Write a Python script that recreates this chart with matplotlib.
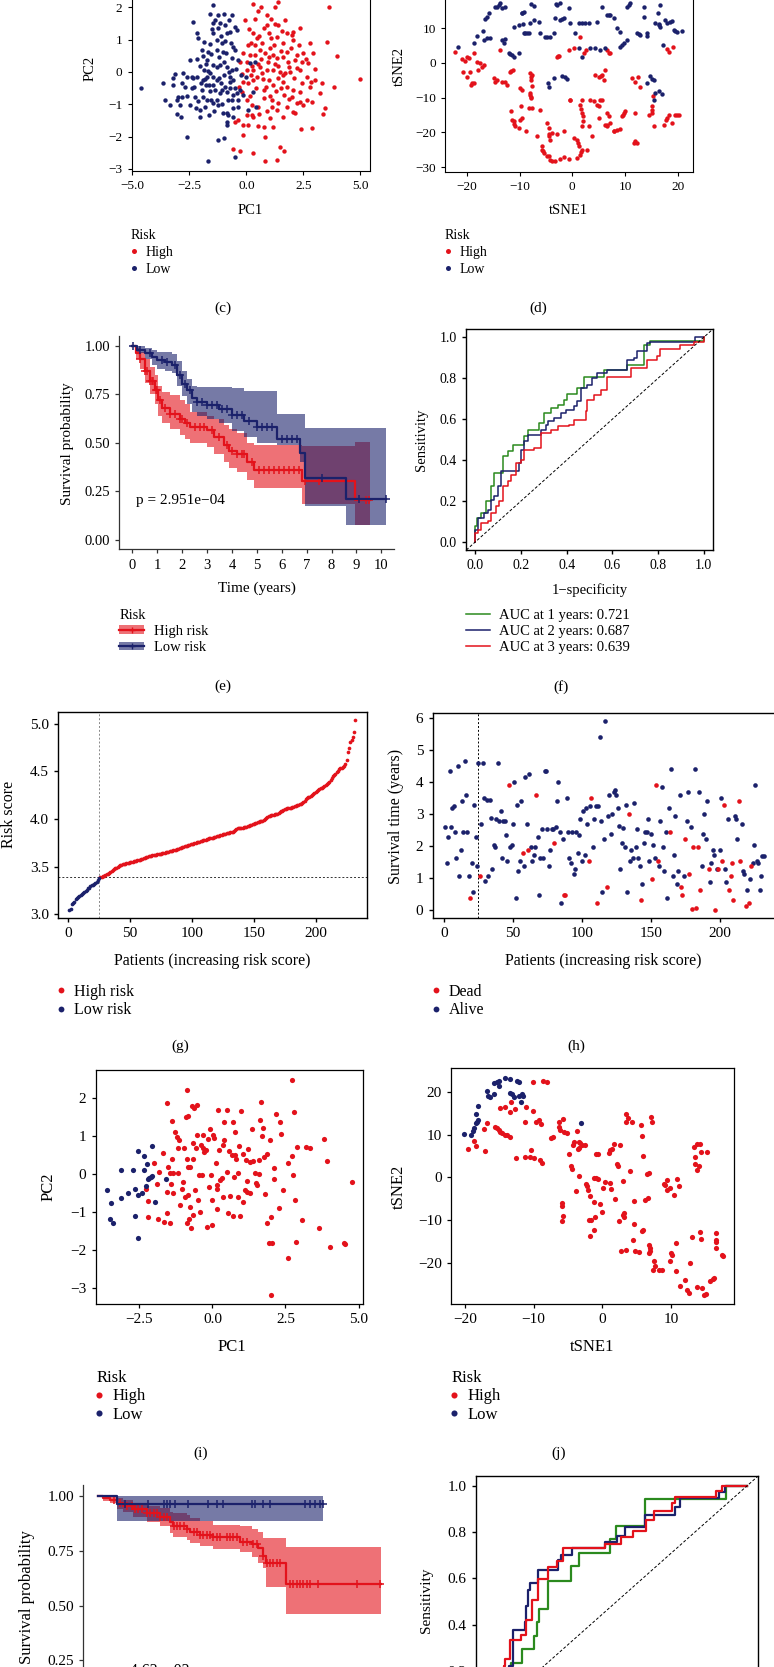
import numpy as np
import matplotlib
matplotlib.use("Agg")
import matplotlib.pyplot as plt
from matplotlib.lines import Line2D
from matplotlib.patches import Patch
from matplotlib.ticker import FuncFormatter

plt.rcParams['font.family'] = ['Liberation Serif', 'DejaVu Serif']

RED = '#e3121b'
BLUE = '#1b216b'
GREEN = '#2b8a1e'

# ---------------- data ----------------
# (c) PCA, training set: (PC1, PC2)
pca_train_low = np.array([
    (-4.62, -0.51), (-3.64, -0.33), (-3.13, -0.06), (-2.79, -0.02), (-3.20, -0.40), (-3.01, -0.76),
    (-2.81, -0.33), (-2.69, -0.45), (-2.84, -0.76), (-3.06, -1.30), (-2.87, -1.40), (-2.62, -2.00),
    (-2.47, -1.02), (-2.40, -0.51), (-2.35, -0.20), (-2.25, -0.76), (-2.18, 1.20), (-2.35, 1.56),
    (-2.11, 1.04), (-2.05, -1.38), (-1.89, -0.76), (-1.81, -0.23), (-2.18, -0.16), (-2.03, 0.19),
    (-1.86, 0.06), (-1.74, 0.37), (-1.67, 0.63), (-1.62, -0.40), (-1.59, 0.87), (-1.52, 1.32),
    (-1.48, 1.51), (-1.59, 1.81), (-1.45, 2.07), (-1.37, 1.61), (-1.30, 0.99), (-1.23, 1.35),
    (-1.15, 1.51), (-1.11, 1.11), (-1.05, 0.89), (-1.01, 0.63), (-0.98, 0.32), (-0.91, 0.58),
    (-0.86, 0.16), (-0.75, 0.01), (-0.72, -0.14), (-0.64, 0.06), (-0.57, -0.25), (-0.50, -0.51),
    (-0.42, -0.66), (-0.39, -1.07), (-0.64, -0.87), (-0.86, -1.28), (-1.01, -1.28), (-1.15, -0.66),
    (-1.30, -0.87), (-1.37, -0.56), (-1.45, -0.14), (-1.55, -0.87), (-1.62, -1.33), (-1.67, -2.77),
    (-1.23, -2.10), (-0.98, -2.03), (-0.79, -1.33), (-0.79, -0.87), (-0.57, -1.38), (-0.50, -2.62),
    (-0.35, -0.87), (-0.28, -0.56), (-0.39, 0.37), (-0.57, 0.78), (-0.67, 0.89), (-0.77, 1.61),
    (-0.98, 1.81), (-0.61, 1.76), (-0.50, 1.40), (-0.42, 1.30), (-0.72, 1.25), (-0.94, 1.45),
    (-1.81, -1.07), (-1.77, -0.40), (-1.45, -0.40), (-1.30, 0.16), (-1.18, -0.20), (-1.11, -0.35),
    (-0.94, -0.45), (-0.86, -0.61), (-0.72, -0.51), (-0.57, -0.71), (-1.15, 0.22), (-1.45, 0.22),
    (-1.67, 0.04), (-1.89, -0.25), (-1.96, -0.56), (-2.11, -0.89), (-2.03, -1.18), (-1.74, -0.87),
    (-1.45, -0.97), (-1.23, -1.02), (-1.08, -0.99), (-2.91, -1.02), (-3.06, -0.87), (-3.35, -1.02),
    (-3.57, -0.87), (-3.20, -0.20), (-2.62, -0.16), (-2.40, -0.16), (-2.47, 0.37), (-2.18, 0.39),
    (-1.74, -0.14), (-1.59, -0.02), (-1.96, 0.68), (-1.86, 0.94), (-1.45, 1.20), (-1.30, 0.68),
    (-0.64, 0.42), (-0.50, 0.68), (0.16, 0.27), (0.38, 0.32), (0.31, -0.61), (0.42, -1.07),
    (-0.13, -0.71), (-0.01, -0.16), (0.09, -1.18), (-0.86, -1.64), (-0.83, -1.54),
    (-1.20, 0.45), (-1.55, 0.55), (-1.00, -0.10), (-0.70, -0.30), (-1.30, -0.25), (-1.60, -0.60),
    (-2.30, -0.45), (-2.00, -0.35), (-1.75, 0.25), (-1.05, -0.55), (-0.95, 0.95), (-1.25, 1.75),
    (-0.85, 1.20), (-2.60, -0.75), (-2.20, -1.10), (-0.45, 0.10), (-0.25, -0.10), (-1.40, -1.20),
    (-0.60, -1.10), (-1.90, 0.50)])
pca_train_high = np.array([
    (0.31, 2.10), (0.63, 2.02), (1.27, 2.00), (1.40, 2.18), (3.64, 2.00), (-0.06, 1.61), (0.38, 1.63),
    (0.89, 1.76), (1.07, 1.63), (1.37, 1.45), (1.58, 1.28), (0.13, 1.32), (0.31, 1.22), (0.75, 1.35),
    (0.89, 1.45), (1.33, 1.09), (1.77, 1.20), (1.99, 1.14), (2.35, 1.35), (2.03, 1.25), (2.06, 0.99),
    (0.38, 0.84), (0.67, 0.89), (1.04, 0.73), (1.21, 0.84), (1.59, 0.89), (1.80, 0.63), (2.21, 0.53),
    (2.79, 0.89), (3.52, 0.94), (3.96, 0.49), (2.94, 0.58), (2.72, 0.27), (2.43, 0.32), (2.13, 0.37),
    (1.84, 0.32), (1.62, 0.47), (1.33, 0.42), (1.15, 0.53), (0.82, 0.58), (0.60, 0.68), (0.38, 0.53),
    (0.16, 0.53), (0.01, 0.32), (-0.28, 0.32), (0.01, 0.06), (0.31, 0.06), (0.60, 0.16), (0.89, 0.06),
    (1.15, 0.06), (1.48, 0.01), (1.70, -0.04), (1.92, 0.01), (2.21, 0.11), (2.35, 0.06), (2.65, -0.14),
    (3.01, -0.25), (3.30, -0.35), (3.82, -0.47), (4.96, -0.23), (-0.16, -0.30), (0.09, -0.35),
    (0.28, -0.25), (0.45, -0.16), (0.72, -0.21), (0.98, -0.25), (1.18, -0.40), (1.40, -0.20),
    (1.59, -0.30), (1.77, -0.45), (2.06, -0.56), (2.35, -0.61), (2.79, -0.45), (3.23, -0.66),
    (2.65, -0.87), (2.35, -0.92), (1.99, -0.76), (1.65, -0.71), (1.40, -0.97), (1.11, -0.87),
    (0.75, -0.81), (0.53, -1.07), (0.23, -1.02), (0.01, -0.87), (-0.20, -0.61), (-0.31, -0.47),
    (1.11, -1.07), (1.33, -1.18), (2.06, -1.23), (2.50, -1.02), (2.87, -0.92), (3.45, -1.12),
    (3.38, -1.31), (2.13, -1.28), (1.77, -1.07), (1.04, -1.43), (0.75, -1.69), (1.18, -1.69),
    (0.82, -2.00), (-0.13, -1.95), (-0.28, -2.46), (0.31, -2.52), (0.82, -2.77), (1.33, -2.72),
    (1.48, -2.31), (1.65, -2.44), (2.38, -1.77), (2.87, -1.74), (-0.50, -1.54), (0.09, -1.64),
    (-0.35, -1.48), (-0.13, -1.64), (0.53, -1.67), (0.23, -1.33), (0.31, -1.38), (0.01, -1.33),
    (-0.57, -2.39), (0.50, 0.25), (0.70, -0.02), (0.95, 0.30), (1.25, 0.25), (0.45, 1.05),
    (1.00, 1.20), (1.60, -0.10), (0.20, -0.10), (0.85, -0.45), (1.30, -0.60), (2.50, 0.60),
    (0.20, 0.90), (0.55, 1.10), (1.10, 1.05), (1.50, 0.65), (1.95, 0.75), (2.30, 0.85), (0.25, 0.20),
    (0.65, 0.40), (1.00, 0.45), (1.40, 0.20), (1.85, 0.15), (2.10, -0.20), (2.45, -0.35), (0.40, -0.50),
    (0.75, -0.55), (1.05, -0.75), (1.50, -0.50), (1.85, -0.85), (2.20, -0.95), (0.15, -0.75),
    (0.55, -1.30), (0.90, -1.20), (1.60, -1.40), (-0.15, 0.60), (-0.20, -0.05), (3.00, 0.10),
    (2.60, 0.40), (0.05, 0.85), (1.25, 1.50), (0.50, 1.90), (1.70, 1.60), (2.85, -0.30)])

# (d) t-SNE, training set: (tSNE1, tSNE2)
tsne_train_low = np.array([
    (-21.77, 4.70), (-18.61, 5.85), (-18.10, 7.77), (-16.84, 6.62), (-16.20, 7.10), (-15.57, 7.10),
    (-16.52, 12.67), (-15.89, 14.30), (-14.30, 16.22), (-13.67, 17.18), (-13.35, 15.74), (-12.72, 16.22),
    (-17.03, 9.31), (-13.35, 6.62), (-13.04, 5.66), (-12.72, 6.81), (-12.09, 2.78), (-11.46, 2.30),
    (-11.14, 1.82), (-10.19, 2.78), (-11.14, 10.46), (-10.19, 10.94), (-9.43, 11.23), (-9.24, 8.54),
    (-8.92, 8.73), (-8.29, 8.54), (-7.97, 11.42), (-7.34, 12.38), (-6.39, 11.90), (-9.56, 14.30),
    (-9.11, 14.78), (-7.85, 16.99), (-7.34, 16.41), (-6.08, 8.54), (-5.13, 7.58), (-4.18, 7.39),
    (-3.54, 8.54), (-3.23, 12.86), (-2.28, 12.38), (-1.65, 12.86), (-2.91, 16.70), (-2.41, 17.37),
    (-0.70, 15.74), (-0.38, 11.42), (1.20, 11.42), (2.47, 11.42), (3.10, 11.42), (4.68, 11.90),
    (5.63, 16.03), (6.58, 13.82), (7.22, 13.82), (7.85, 12.86), (8.48, 9.98), (9.11, 9.02),
    (10.38, 16.22), (11.01, 17.18), (12.28, 8.54), (12.91, 8.06), (13.54, 16.22), (13.67, 13.34),
    (14.18, 8.54), (14.18, 7.77), (15.76, 11.42), (16.39, 10.94), (16.58, 10.46), (16.20, 14.30),
    (16.71, 16.70), (17.66, 12.38), (17.97, 11.61), (18.48, 11.90), (18.92, 12.19), (19.24, 9.50),
    (19.87, 9.02), (20.82, 9.31), (17.15, 5.18), (9.11, 4.70), (9.75, 5.66), (10.38, 6.62),
    (0.57, 8.54), (1.20, 4.22), (1.84, 1.82), (3.42, 4.22), (4.37, 4.22), (5.32, 3.74), (6.27, 4.22),
    (-4.68, -5.85), (-3.54, -4.41), (-1.96, -3.74), (-1.33, -4.13), (-1.01, -4.70), (-4.49, -7.01),
    (14.81, -3.74), (15.13, -4.70), (15.44, -4.89), (14.18, -5.85), (15.76, -8.73), (16.39, -8.25),
    (17.03, -8.93), (15.44, -10.65), (-16.10, 13.30), (-14.00, 16.70), (-8.60, 8.60), (-4.80, 7.50),
    (-2.00, 12.60), (1.90, 11.40), (6.90, 13.80), (10.70, 16.70), (12.60, 8.30), (16.40, 11.20),
    (19.50, 9.30), (-11.80, 2.50), (-9.50, 14.50), (-3.00, 16.90), (9.40, 5.20), (-14.70, 16.00)])
tsne_train_high = np.array([
    (-22.22, 3.26), (-20.95, 1.06), (-20.32, 0.67), (-20.00, 1.63), (-19.56, 1.34), (-18.73, 2.78),
    (-18.10, 0.38), (-17.47, -0.10), (-16.84, -0.58), (-20.76, -2.50), (-20.00, -3.93), (-19.49, -2.50),
    (-19.24, -6.33), (-18.73, -5.66), (-17.97, -2.02), (-17.15, -1.06), (-14.94, -4.41), (-14.62, -5.37),
    (-13.35, -5.37), (-12.72, -5.37), (-12.41, -6.33), (-11.90, -2.50), (-11.27, -2.02), (-13.67, 3.74),
    (-9.87, -7.29), (-9.56, -7.77), (-7.97, -2.98), (-7.66, -3.45), (-7.85, -4.89), (-7.66, -6.81),
    (-8.10, -8.73), (-7.97, -9.21), (-7.78, -10.17), (-7.66, -13.05), (-8.29, -13.05), (-6.08, -13.53),
    (-11.65, -14.01), (-11.46, -16.41), (-11.14, -16.89), (-10.82, -18.33), (-10.19, -18.81),
    (-9.87, -16.41), (-9.56, -15.93), (-9.75, -12.57), (-8.73, -19.77), (-6.71, -21.21), (-5.76, -24.09),
    (-5.76, -25.05), (-5.44, -26.01), (-4.49, -26.97), (-4.18, -27.93), (-3.23, -28.41), (-2.91, -20.44),
    (-3.86, -20.25), (-4.49, -18.81), (-4.49, -21.21), (-4.30, -22.36), (-4.81, -17.37), (-1.65, -19.77),
    (-0.70, -27.74), (-0.51, -10.65), (-0.38, -10.65), (1.84, -10.65), (1.52, -12.09), (1.84, -14.49),
    (2.03, -15.45), (1.84, -18.33), (1.20, -24.09), (1.84, -25.05), (2.78, -25.05), (3.10, -18.33),
    (3.73, -21.21), (3.42, -10.65), (4.05, -11.13), (5.00, -12.57), (5.32, -10.65), (5.63, -10.65),
    (6.58, -14.49), (6.90, -15.45), (6.27, -17.85), (6.58, -18.33), (7.22, -17.37), (7.85, -19.77),
    (8.48, -19.29), (9.11, -19.10), (9.43, -15.45), (9.75, -14.49), (10.06, -14.01), (5.00, -15.93),
    (4.37, -3.45), (5.00, -3.93), (5.63, -3.45), (5.95, -4.89), (6.27, -2.02), (6.90, 2.78), (7.22, 2.78),
    (6.58, 3.74), (2.59, 3.74), (2.15, 2.78), (-0.70, 3.74), (0.25, 4.22), (1.52, 7.58), (-2.91, 1.82),
    (-2.59, 2.02), (0.25, -21.69), (0.89, -22.17), (1.01, -23.13), (11.96, -14.49), (11.65, -23.13),
    (11.96, -22.65), (11.33, -4.41), (11.96, -5.37), (12.41, -3.93), (12.91, -7.01), (15.32, -9.69),
    (15.13, -12.57), (15.13, -14.49), (14.49, -14.97), (15.44, -18.33), (17.34, -17.85), (17.97, -15.93),
    (18.29, -14.97), (18.92, -17.37), (19.87, -14.97), (20.19, -14.97), (17.97, 3.93), (19.11, 4.70),
    (18.29, 3.26), (0.89, -27.45), (1.39, -26.49), (-4.81, -26.97), (-2.28, -27.74), (-1.65, -27.16),
    (-19.00, -5.90), (-14.30, -5.00), (-11.60, -2.30), (-7.80, -4.00), (-7.90, -9.70), (-11.00, -17.50),
    (-5.60, -25.50), (-3.80, -28.20), (-4.40, -20.50), (1.70, -13.20), (1.95, -16.80), (4.70, -12.00),
    (6.50, -17.90), (8.00, -19.50), (9.60, -15.00), (15.20, -13.50), (17.70, -16.60), (19.50, -15.00),
    (12.20, -23.00), (5.50, -3.70), (-2.70, 1.90), (1.60, -25.60)])

# (e) Kaplan-Meier, training set
km_tr_high_t = [0, 0.15, 0.3, 0.5, 0.7, 0.9, 1.05, 1.2, 1.5, 1.9, 2.1, 2.3, 3.0, 3.3, 3.7, 3.9, 4.2, 4.6, 4.9, 6.8, 8.95, 9.55]
km_tr_high_s = [1.0, 0.96, 0.93, 0.87, 0.82, 0.77, 0.72, 0.68, 0.65, 0.62, 0.60, 0.58, 0.565, 0.53, 0.49, 0.455, 0.44, 0.40, 0.36, 0.30, 0.205, 0.205]
km_tr_high_lo = [1.0, 0.93, 0.88, 0.81, 0.75, 0.70, 0.64, 0.60, 0.57, 0.54, 0.52, 0.50, 0.48, 0.44, 0.40, 0.37, 0.35, 0.31, 0.265, 0.185, 0.075, 0.075]
km_tr_high_up = [1.0, 0.99, 0.97, 0.93, 0.89, 0.85, 0.79, 0.76, 0.745, 0.72, 0.70, 0.66, 0.64, 0.62, 0.59, 0.57, 0.55, 0.50, 0.49, 0.485, 0.505, 0.505]
km_tr_high_cens = [0.3, 0.5, 0.6, 0.7, 0.8, 0.85, 0.95, 1.0, 1.1, 1.3, 1.5, 1.7, 1.9, 2.0, 2.2, 2.5, 2.7, 2.9, 3.2,
                   3.5, 3.8, 4.0, 4.2, 4.4, 4.5, 4.8, 5.1, 5.3, 5.5, 5.7, 5.9, 6.1, 6.3, 6.5, 6.7, 6.95, 7.5, 9.4, 9.5]
km_tr_low_t = [0, 0.2, 0.5, 0.8, 1.0, 1.3, 1.6, 1.8, 2.0, 2.2, 2.4, 2.6, 3.0, 3.5, 4.0, 4.5, 5.0, 5.8, 6.73, 6.93, 8.6, 10.2]
km_tr_low_s = [1.0, 0.98, 0.96, 0.94, 0.925, 0.915, 0.90, 0.85, 0.80, 0.77, 0.73, 0.71, 0.695, 0.675, 0.645, 0.61, 0.58, 0.52, 0.445, 0.32, 0.21, 0.21]
km_tr_low_lo = [1.0, 0.96, 0.93, 0.90, 0.88, 0.87, 0.86, 0.79, 0.74, 0.70, 0.66, 0.64, 0.62, 0.60, 0.56, 0.53, 0.50, 0.49, 0.40, 0.175, 0.075, 0.075]
km_tr_low_up = [1.0, 1.0, 0.99, 0.98, 0.97, 0.965, 0.955, 0.92, 0.87, 0.83, 0.79, 0.785, 0.785, 0.785, 0.78, 0.765, 0.765, 0.65, 0.65, 0.575, 0.575, 0.575]
km_tr_low_cens = [0.05, 0.3, 0.7, 1.2, 1.4, 1.7, 1.9, 2.1, 2.3, 2.6, 2.8, 3.0, 3.2, 3.4, 3.6, 3.8, 4.0, 4.2, 4.4, 4.7,
                  5.0, 5.2, 5.4, 5.6, 6.0, 6.2, 6.4, 6.6, 7.6, 9.1, 10.2]
p_train = "p = 2.951e\u221204"

# (f) time-dependent ROC, training set: (1 - specificity, sensitivity)
roc_tr_1y = np.array([
    (0, 0), (0, 0.077), (0.007, 0.117), (0.025, 0.142), (0.047, 0.199), (0.068, 0.272), (0.083, 0.337),
    (0.105, 0.337), (0.119, 0.419), (0.141, 0.443), (0.163, 0.476), (0.199, 0.476), (0.214, 0.516),
    (0.229, 0.549), (0.258, 0.549), (0.279, 0.581), (0.301, 0.581), (0.301, 0.630), (0.330, 0.655),
    (0.360, 0.671), (0.389, 0.695), (0.403, 0.723), (0.440, 0.723), (0.447, 0.752), (0.476, 0.809),
    (0.534, 0.809), (0.563, 0.842), (0.636, 0.842), (0.665, 0.866), (0.702, 0.866), (0.738, 0.964),
    (0.767, 0.985), (0.949, 0.985), (1.0, 1.0)])
roc_tr_2y = np.array([
    (0, 0), (0, 0.060), (0.010, 0.117), (0.039, 0.142), (0.054, 0.158), (0.068, 0.207), (0.083, 0.223),
    (0.098, 0.272), (0.112, 0.345), (0.170, 0.345), (0.192, 0.386), (0.199, 0.451), (0.214, 0.492),
    (0.229, 0.524), (0.272, 0.524), (0.287, 0.549), (0.309, 0.573), (0.316, 0.590), (0.345, 0.606),
    (0.374, 0.630), (0.396, 0.647), (0.432, 0.663), (0.447, 0.687), (0.461, 0.752), (0.491, 0.769),
    (0.512, 0.801), (0.534, 0.826), (0.578, 0.842), (0.658, 0.842), (0.665, 0.891), (0.694, 0.899),
    (0.709, 0.932), (0.753, 0.972), (0.767, 0.977), (0.949, 0.977), (0.964, 1.0), (1.0, 1.0)])
roc_tr_3y = np.array([
    (0, 0), (0, 0.044), (0.010, 0.060), (0.025, 0.093), (0.054, 0.101), (0.068, 0.142), (0.090, 0.174),
    (0.105, 0.199), (0.119, 0.272), (0.141, 0.296), (0.156, 0.329), (0.178, 0.386), (0.199, 0.402),
    (0.214, 0.451), (0.258, 0.459), (0.287, 0.533), (0.330, 0.549), (0.360, 0.565), (0.410, 0.573),
    (0.432, 0.598), (0.483, 0.638), (0.491, 0.695), (0.520, 0.720), (0.549, 0.744), (0.578, 0.806),
    (0.651, 0.806), (0.680, 0.850), (0.753, 0.891), (0.796, 0.907), (0.811, 0.943), (0.898, 0.964),
    (0.956, 0.980), (1.0, 1.0)])
auc_train = [0.721, 0.687, 0.639]

# (g) risk score, validation set (sorted), first n_low patients are low risk
n_low = 25
risk_score = [
    3.04, 3.05, 3.11, 3.12, 3.13, 3.16, 3.17, 3.18, 3.19, 3.20,
    3.21, 3.22, 3.23, 3.24, 3.25, 3.27, 3.28, 3.30, 3.31, 3.31,
    3.32, 3.33, 3.34, 3.36, 3.38,
    3.39, 3.39, 3.40, 3.40, 3.41, 3.42, 3.42, 3.43, 3.44, 3.45,
    3.46, 3.47, 3.48, 3.49, 3.50, 3.51, 3.52, 3.52, 3.53, 3.53,
    3.53, 3.54, 3.54, 3.54, 3.55, 3.55, 3.55, 3.56, 3.56, 3.56,
    3.57, 3.57, 3.57, 3.58, 3.58, 3.59, 3.59, 3.60, 3.60, 3.61,
    3.61, 3.61, 3.62, 3.62, 3.62, 3.62, 3.63, 3.63, 3.63, 3.63,
    3.64, 3.64, 3.64, 3.65, 3.65, 3.65, 3.66, 3.66, 3.66, 3.67,
    3.67, 3.67, 3.68, 3.68, 3.69, 3.70, 3.71, 3.71, 3.72, 3.72,
    3.72, 3.73, 3.73, 3.74, 3.74, 3.74, 3.75, 3.75, 3.76, 3.76,
    3.76, 3.77, 3.77, 3.78, 3.78, 3.78, 3.79, 3.79, 3.80, 3.80,
    3.80, 3.80, 3.81, 3.81, 3.82, 3.82, 3.82, 3.83, 3.83, 3.84,
    3.84, 3.84, 3.85, 3.85, 3.85, 3.86, 3.86, 3.86, 3.87, 3.88,
    3.89, 3.90, 3.90, 3.91, 3.91, 3.91, 3.92, 3.92, 3.92, 3.93,
    3.93, 3.94, 3.94, 3.95, 3.95, 3.96, 3.96, 3.97, 3.97, 3.98,
    3.98, 3.98, 3.99, 4.00, 4.01, 4.02, 4.03, 4.03, 4.04, 4.04,
    4.04, 4.05, 4.05, 4.05, 4.06, 4.07, 4.08, 4.08, 4.09, 4.10,
    4.10, 4.11, 4.11, 4.12, 4.12, 4.13, 4.13, 4.14, 4.14, 4.15,
    4.15, 4.16, 4.16, 4.17, 4.18, 4.19, 4.21, 4.22, 4.23, 4.23,
    4.24, 4.25, 4.26, 4.27, 4.28, 4.29, 4.30, 4.31, 4.32, 4.33,
    4.34, 4.35, 4.36, 4.37, 4.38, 4.39, 4.41, 4.43, 4.45, 4.46,
    4.47, 4.49, 4.50, 4.52, 4.53, 4.54, 4.55, 4.56, 4.58, 4.62,
    4.70, 4.74, 4.81, 4.83, 4.86, 4.91, 5.04]
risk_cut = 3.39

# (h) survival time (years) and status (1 = dead), same patient order
surv_time = [
    2.61, 1.47, 2.30, 4.34, 2.61, 3.21, 3.27, 2.45, 1.63, 4.51,
    1.06, 1.89, 3.43, 2.45, 4.67, 3.61, 2.45, 1.06, 0.39, 1.47,
    0.57, 3.28, 2.30, 1.39, 4.59, 1.06, 2.69, 4.59, 3.52, 0.91,
    3.45, 1.06, 3.45, 2.89, 1.30, 2.04, 1.97, 2.87, 4.59, 2.79,
    3.10, 1.63, 2.79, 2.79, 2.37, 1.55, 3.93, 1.97, 2.04, 2.69,
    4.02, 0.39, 3.28, 1.22, 1.55, 3.43, 1.80, 1.39, 4.18, 2.69,
    1.89, 4.26, 1.97, 1.55, 1.73, 1.97, 3.61, 2.30, 0.47, 1.63,
    2.54, 1.63, 4.34, 4.34, 2.54, 1.39, 1.89, 2.54, 2.54, 2.12,
    2.61, 3.43, 4.02, 2.45, 0.24, 2.22, 0.47, 0.47, 3.52, 2.45,
    1.63, 1.47, 2.45, 1.14, 1.30, 2.45, 1.80, 2.37, 2.87, 1.55,
    3.10, 1.73, 3.21, 2.69, 1.55, 3.27, 3.52, 1.97, 2.87, 3.27,
    0.24, 3.27, 5.42, 2.79, 0.57, 2.22, 5.91, 0.73, 2.94, 3.61,
    2.38, 3.02, 3.69, 3.77, 3.61, 3.21, 2.63, 1.30, 2.12, 2.56,
    1.97, 3.28, 0.57, 3.02, 1.55, 1.89, 1.63, 3.36, 1.97, 2.54,
    1.63, 1.39, 0.31, 0.82, 2.12, 2.45, 2.45, 2.87, 1.55, 2.38,
    0.98, 2.04, 1.63, 3.93, 1.55, 1.39, 2.79, 3.85, 1.97, 1.22,
    2.45, 0.39, 3.20, 2.45, 4.43, 1.06, 1.73, 2.94, 0.82, 1.22,
    3.61, 0.73, 0.47, 1.06, 2.22, 2.79, 3.69, 1.14, 2.61, 0.03,
    1.97, 4.43, 0.06, 1.97, 3.69, 0.65, 1.39, 2.38, 3.02, 2.22,
    3.43, 1.30, 0.89, 1.47, 1.89, 1.73, 0.00, 1.30, 1.30, 1.89,
    3.52, 1.55, 3.28, 1.30, 0.89, 2.87, 0.65, 1.06, 1.47, 0.31,
    2.94, 2.87, 2.22, 3.43, 1.55, 2.69, 1.22, 1.14, 0.15, 0.65,
    0.22, 0.98, 1.39, 1.47, 2.04, 3.93, 1.55, 1.47, 0.65, 1.06,
    1.71, 1.71]
status = [
    0, 0, 0, 0, 0, 0, 0, 0, 0, 0,
    0, 0, 0, 0, 0, 0, 0, 0, 1, 0,
    0, 0, 0, 0, 0, 1, 0, 0, 0, 0,
    0, 0, 0, 0, 0, 0, 0, 0, 0, 0,
    0, 0, 0, 0, 0, 0, 1, 0, 0, 0,
    0, 0, 0, 0, 0, 0, 1, 0, 0, 0,
    1, 0, 0, 0, 0, 0, 1, 0, 0, 0,
    0, 0, 0, 0, 0, 0, 0, 0, 0, 1,
    0, 0, 0, 0, 0, 0, 1, 1, 0, 0,
    0, 0, 0, 0, 0, 0, 0, 0, 0, 0,
    0, 0, 0, 0, 1, 0, 1, 0, 0, 0,
    1, 0, 0, 0, 0, 0, 0, 1, 0, 0,
    0, 0, 0, 0, 0, 0, 0, 0, 0, 0,
    0, 0, 0, 1, 0, 0, 0, 0, 0, 0,
    0, 0, 1, 0, 0, 0, 0, 0, 0, 0,
    1, 0, 0, 1, 1, 0, 0, 0, 0, 0,
    0, 0, 0, 1, 0, 0, 0, 0, 0, 0,
    0, 1, 1, 0, 1, 0, 0, 1, 0, 1,
    1, 0, 1, 1, 0, 1, 0, 0, 0, 0,
    0, 1, 0, 0, 0, 0, 1, 0, 1, 0,
    0, 1, 1, 0, 0, 0, 1, 1, 1, 1,
    0, 0, 0, 1, 1, 0, 0, 0, 1, 0,
    1, 0, 1, 0, 0, 0, 0, 0, 0, 0,
    0, 0]

# (i) PCA, validation set
pca_val_low = np.array([
    (-3.62, -0.43), (-3.48, -0.76), (-3.50, -1.20), (-3.39, -1.31), (-3.11, 0.11), (-3.11, -0.63),
    (-2.88, -0.52), (-2.73, 0.11), (-2.65, -0.39), (-2.65, -1.11), (-2.56, -1.70), (-2.53, 0.61),
    (-2.53, -0.56), (-2.42, -0.52), (-2.34, 0.46), (-2.33, 0.10), (-2.27, -0.32), (-2.25, 0.25),
    (-2.19, -0.15), (-2.16, -0.12), (-2.11, -0.08), (-2.08, 0.73), (-2.08, -0.06), (-1.96, -0.74),
    (-1.59, -0.15)])
pca_val_high = np.array([
    (-2.27, -0.39), (-2.19, -0.72), (-2.19, -1.13), (-2.00, 0.27), (-1.91, -0.27), (-1.83, 0.05),
    (-1.85, -1.18), (-1.68, 0.54), (-1.66, -1.26), (-1.56, -0.47), (-1.56, -1.04), (-1.54, 1.87),
    (-1.51, 0.18), (-1.45, 0.01), (-1.45, -1.31), (-1.43, -0.28), (-1.37, 1.39), (-1.39, 0.38),
    (-1.36, -0.52), (-1.34, 0.01), (-1.28, 1.11), (-1.22, 0.97), (-1.19, 0.68), (-1.16, 0.01),
    (-1.13, 0.89), (-1.11, -0.82), (-1.05, -0.39), (-0.99, -0.21), (-0.96, 0.68), (-0.94, -0.61),
    (-0.90, 1.48), (-0.86, 2.20), (-0.88, 0.40), (-0.88, -1.31), (-0.84, 1.52), (-0.82, 0.17),
    (-0.82, -0.56), (-0.79, -1.18), (-0.76, 0.18), (-0.76, -0.87), (-0.73, -1.44), (-0.71, 1.78),
    (-0.67, 0.80), (-0.65, -1.09), (-0.65, 0.40), (-0.62, 1.72), (-0.59, -0.43), (-0.56, 0.67),
    (-0.54, 1.81), (-0.51, 1.02), (-0.48, -0.69), (-0.45, -0.04), (-0.42, -1.00), (-0.39, 0.75),
    (-0.37, -0.04), (-0.33, 0.67), (-0.31, 1.02), (-0.27, 0.58), (-0.23, 0.62), (-0.19, -1.39),
    (-0.16, 0.91), (-0.10, -0.34), (-0.08, 1.17), (-0.06, -0.04), (-0.02, -1.35), (-0.02, -0.69),
    (0.03, 1.02), (0.07, 0.93), (0.13, 0.27), (0.15, -0.41), (0.15, -0.30), (0.17, -0.94),
    (0.18, 1.68), (0.21, 0.62), (0.26, -0.17), (0.32, -0.12), (0.35, 0.75), (0.40, 1.37),
    (0.41, 0.89), (0.35, -0.61), (0.49, 0.05), (0.49, 1.68), (0.55, -1.04), (0.58, 0.61),
    (0.61, -0.59), (0.66, 0.49), (0.70, 1.37), (0.72, -1.11), (0.74, -0.08), (0.78, 1.11),
    (0.78, 0.49), (0.81, 0.38), (0.86, 0.01), (0.89, -0.61), (0.92, 0.73), (0.95, -1.11),
    (0.99, 1.65), (1.03, 0.52), (1.06, -0.74), (1.10, -0.43), (1.15, 0.36), (1.18, -0.47),
    (1.20, -0.18), (1.23, 0.64), (1.27, -0.50), (1.29, 0.32), (1.37, 1.18), (1.38, 0.33),
    (1.46, 0.01), (1.50, -0.25), (1.54, -0.30), (1.58, 0.36), (1.61, -0.01), (1.63, 1.41),
    (1.66, 1.89), (1.69, 1.00), (1.72, 1.20), (1.77, 0.43), (1.80, -0.54), (1.86, -1.29),
    (1.88, 0.52), (1.92, -1.83), (1.97, 0.90), (2.00, -1.13), (2.03, -1.82), (2.09, 0.14),
    (2.11, -0.15), (2.18, 1.57), (2.29, -0.89), (2.32, 1.35), (2.35, 1.04), (2.43, -0.43),
    (2.57, 0.27), (2.59, -2.21), (2.72, 2.46), (2.72, 0.46), (2.75, -0.04), (2.80, 1.63),
    (2.83, -0.69), (2.87, -1.79), (2.90, 0.71), (3.06, -1.22), (3.21, 0.69), (3.34, 0.67),
    (3.66, -1.44), (3.80, 0.92), (3.92, 0.33), (4.03, -1.94), (4.49, -1.83), (4.54, -1.86),
    (4.77, -0.23), (2.00, -3.18)])

# (j) t-SNE, validation set
tsne_val_low = np.array([
    (-20.15, 10.08), (-19.03, 9.92), (-18.79, 10.93), (-18.60, 11.47), (-18.35, 14.81), (-18.31, 12.64),
    (-18.21, 13.02), (-18.11, 13.41), (-18.01, 16.67), (-16.76, 20.16), (-16.66, 18.99), (-16.27, 18.84),
    (-15.79, 19.38), (-15.69, 22.09), (-15.30, 22.33), (-15.06, 22.56), (-14.96, 21.32), (-14.09, 23.10),
    (-13.46, 22.87), (-13.37, 19.61), (-13.12, 19.38), (-12.88, 18.68), (-12.40, 22.56), (-12.15, 22.33),
    (-12.06, 18.99), (-11.82, 17.67), (-11.67, 19.38), (-11.53, 18.99), (-3.10, 12.64)])
tsne_val_high = np.array([
    (-19.52, 6.59), (-18.69, 8.53), (-18.31, 7.36), (-17.24, 11.24), (-17.00, 6.28), (-16.76, 12.64),
    (-15.54, 11.86), (-15.30, 11.47), (-15.06, 11.09), (-14.82, 10.70), (-14.58, 10.31), (-14.09, 9.92),
    (-13.85, 9.92), (-13.46, 9.38), (-14.82, 16.12), (-14.09, 16.36), (-13.37, 15.35), (-13.27, 17.67),
    (-12.64, 15.89), (-12.49, 4.50), (-11.28, 4.73), (-11.19, 13.02), (-11.04, 16.51), (-10.46, 4.88),
    (-10.31, 6.43), (-10.12, 15.58), (-10.07, 22.33), (-9.98, 4.65), (-9.59, 13.02), (-9.25, 13.41),
    (-9.01, 4.11), (-8.77, 3.33), (-8.67, 22.48), (-8.04, 22.33), (-8.91, 12.48), (-7.46, 9.15),
    (-7.22, 9.53), (-6.25, 12.87), (-6.25, 11.86), (-6.10, 11.09), (-5.86, -6.74), (-5.86, -5.97),
    (-5.76, -9.07), (-5.86, -10.23), (-5.71, 13.64), (-5.62, 10.70), (-5.13, 10.31), (-4.89, 5.50),
    (-4.55, 2.56), (-4.41, 1.94), (-4.31, 7.60), (-4.16, 8.37), (-3.83, -3.26), (-3.68, 10.93),
    (-3.58, 6.59), (-3.44, 6.82), (-3.34, 0.23), (-3.34, 8.37), (-3.20, 8.14), (-2.95, 7.60),
    (-2.47, 7.60), (-2.37, -1.47), (-2.23, -2.09), (-2.08, -3.02), (-1.99, -9.84), (-1.84, -13.72),
    (-1.74, -4.42), (-1.65, -10.00), (-1.26, -12.17), (-1.02, -9.22), (-0.87, 5.43), (-0.68, 5.43),
    (-1.26, -5.81), (-1.16, -0.16), (-0.92, -0.16), (-0.68, -0.31), (-0.29, -6.12), (-0.05, -8.06),
    (0.10, -2.56), (0.44, -1.16), (0.92, 5.66), (1.07, 6.43), (1.16, -1.32), (1.31, -2.64),
    (1.45, 6.59), (1.65, 7.83), (1.79, -5.04), (2.13, 3.18), (2.32, 2.71), (2.37, -10.16),
    (2.62, 7.60), (2.76, -17.05), (2.95, -0.93), (3.00, -8.68), (3.10, -8.29), (3.20, -9.22),
    (3.39, -16.82), (3.49, 13.02), (3.49, 14.81), (3.68, 13.80), (4.07, 1.40), (4.36, 13.02),
    (4.55, -10.78), (4.65, -5.43), (4.41, -14.50), (4.79, -17.21), (5.33, -17.36), (5.91, -12.33),
    (5.71, 9.69), (5.76, -12.56), (5.62, 12.33), (5.91, 5.12), (6.25, -5.35), (6.49, 0.85),
    (6.63, -4.81), (6.73, 1.01), (6.83, -15.66), (6.97, -16.43), (6.73, -17.60), (6.88, -17.21),
    (7.07, 14.19), (7.22, 13.02), (7.36, -21.47), (7.46, -19.53), (7.70, -20.70), (8.18, -21.47),
    (8.67, -21.63), (9.01, -1.47), (9.15, -1.71), (9.39, -0.54), (9.39, -2.87), (9.78, -2.48),
    (10.02, -17.60), (10.12, -17.98), (10.46, -4.03), (9.78, -19.53), (10.61, -21.71), (10.70, -15.19),
    (10.85, -0.39), (11.09, -2.09), (11.33, -25.35), (12.06, -23.95), (12.30, -26.12), (12.54, -26.90),
    (12.78, -19.92), (13.03, -13.95), (13.66, 7.75), (13.75, 1.78), (14.00, 2.56), (13.27, 7.05),
    (13.37, 3.18), (13.46, 4.73), (13.66, -25.58), (14.14, -12.71), (14.38, -14.34), (14.48, -25.74),
    (14.72, -27.29), (15.11, -27.13), (15.21, 6.05), (15.59, -24.19), (16.03, -23.64), (16.17, -23.41),
    (16.42, -12.95), (16.42, -14.50), (16.42, -15.12), (16.42, -16.43), (17.38, -17.98), (17.53, -18.37),
    (14.24, 6.05), (14.14, 7.83)])

# (k) Kaplan-Meier, validation set
km_va_high_t = [0, 0.106, 0.246, 0.386, 0.526, 0.735, 1.016, 1.296, 1.507, 1.577, 1.857, 1.927, 2.137, 2.418, 2.97, 3.22, 3.36, 3.46, 3.53, 3.94, 5.93]
km_va_high_s = [1.0, 0.99, 0.98, 0.965, 0.953, 0.938, 0.92, 0.905, 0.88, 0.862, 0.85, 0.836, 0.82, 0.81, 0.79, 0.78, 0.76, 0.726, 0.695, 0.60, 0.60]
km_va_high_lo = [1.0, 0.975, 0.965, 0.94, 0.925, 0.905, 0.882, 0.86, 0.83, 0.814, 0.80, 0.783, 0.77, 0.756, 0.745, 0.72, 0.695, 0.67, 0.586, 0.46, 0.46]
km_va_high_up = [1.0, 1.0, 0.995, 0.99, 0.98, 0.965, 0.955, 0.945, 0.927, 0.92, 0.91, 0.897, 0.885, 0.867, 0.86, 0.85, 0.835, 0.806, 0.806, 0.768, 0.768]
km_va_high_cens = [0.32, 0.46, 0.60, 0.70, 0.77, 0.84, 0.91, 1.02, 1.09, 1.16, 1.23, 1.30, 1.37, 1.44, 1.58, 1.65,
                   1.72, 1.79, 1.86, 2.00, 2.07, 2.14, 2.21, 2.28, 2.35, 2.42, 2.49, 2.56, 2.70, 2.77, 2.84,
                   2.91, 3.05, 3.12, 3.26, 3.33, 3.47, 3.54, 3.61, 3.68, 3.75, 3.82, 4.03, 4.10, 4.17, 4.24,
                   4.31, 4.38, 4.45, 4.62, 5.43, 5.92]
km_va_low_t = [0, 0.4, 4.73]
km_va_low_s = [1.0, 0.962, 0.962]
km_va_low_lo = [1.0, 0.886, 0.886]
km_va_low_up = [1.0, 1.0, 1.0]
km_va_low_cens = [0.56, 1.05, 1.37, 1.44, 1.51, 1.61, 1.89, 2.31, 2.49, 2.63, 3.22, 3.29, 3.47, 3.61,
                  4.34, 4.45, 4.55, 4.66, 4.73]
p_val = "p = 4.62e\u221203"

# (l) time-dependent ROC, validation set
roc_va_1y = np.array([
    (0, 0), (0, 0.04), (0.04, 0.10), (0.08, 0.18), (0.096, 0.22), (0.096, 0.235), (0.134, 0.235),
    (0.138, 0.295), (0.183, 0.295), (0.185, 0.35), (0.192, 0.35), (0.194, 0.41), (0.202, 0.41),
    (0.204, 0.468), (0.236, 0.468), (0.236, 0.587), (0.326, 0.587), (0.326, 0.652), (0.355, 0.652),
    (0.355, 0.708), (0.475, 0.708), (0.475, 0.768), (0.496, 0.768), (0.496, 0.826), (0.607, 0.826),
    (0.607, 0.942), (0.913, 0.942), (0.917, 1.0), (1.0, 1.0)])
roc_va_2y = np.array([
    (0, 0), (0, 0.05), (0.03, 0.10), (0.05, 0.15), (0.075, 0.20), (0.089, 0.22), (0.102, 0.292),
    (0.102, 0.378), (0.14, 0.378), (0.147, 0.41), (0.151, 0.479), (0.16, 0.551), (0.169, 0.58),
    (0.19, 0.58), (0.198, 0.637), (0.268, 0.637), (0.275, 0.68), (0.287, 0.70), (0.326, 0.70),
    (0.33, 0.73), (0.453, 0.73), (0.457, 0.758), (0.498, 0.758), (0.50, 0.783), (0.53, 0.783),
    (0.533, 0.82), (0.607, 0.82), (0.607, 0.873), (0.72, 0.873), (0.725, 0.91), (0.738, 0.91),
    (0.741, 0.945), (0.888, 0.945), (0.891, 0.974), (0.907, 0.974), (0.913, 1.0), (1.0, 1.0)])
roc_va_3y = np.array([
    (0, 0), (0, 0.05), (0.02, 0.12), (0.045, 0.20), (0.07, 0.22), (0.074, 0.252), (0.089, 0.252),
    (0.092, 0.335), (0.128, 0.335), (0.134, 0.357), (0.151, 0.357), (0.153, 0.422), (0.172, 0.422),
    (0.176, 0.508), (0.192, 0.508), (0.198, 0.597), (0.236, 0.597), (0.236, 0.65), (0.268, 0.65),
    (0.272, 0.676), (0.287, 0.676), (0.294, 0.73), (0.453, 0.73), (0.457, 0.75), (0.511, 0.75),
    (0.517, 0.78), (0.562, 0.78), (0.562, 0.804), (0.613, 0.804), (0.613, 0.852), (0.639, 0.852),
    (0.642, 0.89), (0.709, 0.89), (0.711, 0.924), (0.722, 0.924), (0.724, 0.953), (0.875, 0.953),
    (0.879, 0.977), (0.90, 0.977), (0.904, 1.0), (1.0, 1.0)])

# ---------------- figure ----------------
W, H = 774, 1667
fig = plt.figure(figsize=(W / 100, H / 100), dpi=100)


def axes_px(l, t, r, b):
    return fig.add_axes([l / W, 1 - b / H, (r - l) / W, (b - t) / H])


def minus_fmt(pattern):
    return FuncFormatter(lambda v, p: pattern.format(v).replace('-', '\u2212'))


def style(ax, fs, box=True, color='black', lw=0.8, length=3.2, pad=3.5):
    for side in ['top', 'right']:
        ax.spines[side].set_visible(box)
    for sp in ax.spines.values():
        sp.set_color(color)
        sp.set_linewidth(lw)
    ax.tick_params(direction='out', length=length, width=lw, labelsize=fs, pad=pad,
                   color=color, labelcolor='black')


def legend_at(x, y, handles, labels, fs, title=None, hl=0.4, htp=0.7, ls=0.35, hh=0.7):
    fig.legend(handles, labels, loc='upper left', bbox_to_anchor=(x / W, 1 - y / H),
               frameon=False, borderpad=0, borderaxespad=0, fontsize=fs,
               title=title, title_fontsize=fs, alignment='left',
               handlelength=hl, handletextpad=htp, labelspacing=ls, handleheight=hh)


def label_px(x, y, text, fs, rot=0):
    fig.text(x / W, 1 - y / H, text, fontsize=fs, rotation=rot, ha='center', va='center')


def dot(color, ms=3.6):
    return Line2D([], [], marker='o', ls='', color=color, ms=ms, mew=0)


def scatter_panel(ax, low, high, s):
    ax.scatter(high[:, 0], high[:, 1], s=s, color=RED, lw=0, zorder=3)
    ax.scatter(low[:, 0], low[:, 1], s=s, color=BLUE, lw=0, zorder=3)


def km_panel(ax, groups):
    for t, s, lo, up, cens, color in groups:
        ax.fill_between(t, lo, up, step='post', color=color, alpha=0.6, lw=0)
        ax.step(t, s, where='post', color=color, lw=1.6)
        idx = np.searchsorted(t, cens, side='right') - 1
        ax.plot(cens, np.asarray(s)[idx], ls='', marker='+', ms=5.5, mew=1.1, color=color)


# (c)
ax = axes_px(131.7, -34.6, 370, 171)
scatter_panel(ax, pca_train_low, pca_train_high, 10)
ax.set_xlim(-5.03, 5.42)
ax.set_ylim(-3.065, 3.30)
ax.set_xticks([-5, -2.5, 0, 2.5, 5])
ax.set_yticks([-3, -2, -1, 0, 1, 2])
ax.xaxis.set_major_formatter(minus_fmt('{:.1f}'))
ax.yaxis.set_major_formatter(minus_fmt('{:.0f}'))
style(ax, 9.5, lw=0.8)
label_px(250, 210, 'PC1', 10.5)
label_px(90, 68, 'PC2', 10.5, 90)
legend_at(131, 229, [dot(RED), dot(BLUE)], ['High', 'Low'], 10, title='Risk', hl=0.4, htp=0.65, ls=0.3)
label_px(222.7, 308, '(c)', 11)

# (d)
ax = axes_px(445.3, -41.3, 692.7, 171.7)
scatter_panel(ax, tsne_train_low, tsne_train_high, 10)
ax.set_xlim(-24.1, 22.85)
ax.set_ylim(-31.35, 30)
ax.set_xticks([-20, -10, 0, 10, 20])
ax.set_yticks([-30, -20, -10, 0, 10])
ax.xaxis.set_major_formatter(minus_fmt('{:.0f}'))
ax.yaxis.set_major_formatter(minus_fmt('{:.0f}'))
style(ax, 9.5, lw=0.8)
label_px(568.7, 210, 'tSNE1', 10.5)
label_px(399.3, 66.7, 'tSNE2', 10.5, 90)
legend_at(445, 229, [dot(RED), dot(BLUE)], ['High', 'Low'], 10, title='Risk', hl=0.4, htp=0.65, ls=0.3)
label_px(538.7, 308, '(d)', 11)

# (e)
ax = axes_px(119.3, 336, 393.8, 549.4)
km_panel(ax, [(km_tr_high_t, km_tr_high_s, km_tr_high_lo, km_tr_high_up, km_tr_high_cens, RED),
              (km_tr_low_t, km_tr_low_s, km_tr_low_lo, km_tr_low_up, km_tr_low_cens, BLUE)])
ax.set_xlim(-0.52, 10.5)
ax.set_ylim(-0.05, 1.05)
ax.set_xticks(range(0, 11))
ax.set_yticks([0, 0.25, 0.5, 0.75, 1.0])
ax.yaxis.set_major_formatter(minus_fmt('{:.2f}'))
style(ax, 10.5, box=False, color='#333333', lw=0.9)
ax.text(0.15, 0.2, p_train, fontsize=11, va='center', ha='left')
label_px(256.7, 588.3, 'Time (years)', 11)
label_px(67.7, 443.3, 'Survival probability', 11, 90)
km_keys = [(Patch(facecolor=RED, alpha=0.6, lw=0), Line2D([], [], color=RED, lw=1.6, marker='+', ms=5)),
           (Patch(facecolor=BLUE, alpha=0.6, lw=0), Line2D([], [], color=BLUE, lw=1.6, marker='+', ms=5))]
legend_at(119.3, 608.7, km_keys, ['High risk', 'Low risk'], 10.5, title='Risk', hl=1.7, htp=0.65, ls=0.22, hh=0.55)
label_px(222.7, 686.7, '(e)', 11)

# (f)
ax = axes_px(466.3, 329.3, 712.7, 550)
for data, color in [(roc_tr_1y, GREEN), (roc_tr_2y, BLUE), (roc_tr_3y, RED)]:
    ax.plot(data[:, 0], data[:, 1], color=color, lw=1.1, drawstyle='steps-post')
ax.axline((0, 0), (1, 1), color='black', lw=0.7, ls=(0, (3, 2)))
ax.set_xlim(-0.04, 1.04)
ax.set_ylim(-0.04, 1.04)
ax.set_xticks(np.arange(0, 1.01, 0.2))
ax.set_yticks(np.arange(0, 1.01, 0.2))
ax.xaxis.set_major_formatter(minus_fmt('{:.1f}'))
ax.yaxis.set_major_formatter(minus_fmt('{:.1f}'))
style(ax, 10, lw=1.0)
label_px(589.7, 590, '1\u2212specificity', 10.5)
label_px(421.3, 440, 'Sensitivity', 10.5, 90)
roc_keys = [Line2D([], [], color=c, lw=1.1) for c in (GREEN, BLUE, RED)]
roc_labels = ['AUC at {} years: {:.3f}'.format(i + 1, a) for i, a in enumerate(auc_train)]
legend_at(466.3, 609, roc_keys, roc_labels, 10.5, hl=1.65, htp=0.6, ls=0.18)
label_px(561.3, 686.7, '(f)', 11)

# (g)
n = len(risk_score)
patients = np.arange(1, n + 1)
rs = np.array(risk_score)
ax = axes_px(58, 712.3, 366.7, 918)
ax.scatter(patients[n_low:], rs[n_low:], s=7, color=RED, lw=0, zorder=3)
ax.scatter(patients[:n_low], rs[:n_low], s=7, color=BLUE, lw=0, zorder=3)
ax.axvline(n_low + 0.2, color='#888888', lw=0.7, ls=(0, (2, 2)))
ax.axhline(risk_cut, color='#333333', lw=0.7, ls=(0, (2, 2)))
ax.set_xlim(-8.24, 241.24)
ax.set_ylim(2.96, 5.12)
ax.set_xticks([0, 50, 100, 150, 200])
ax.set_yticks([3.0, 3.5, 4.0, 4.5, 5.0])
ax.yaxis.set_major_formatter(minus_fmt('{:.1f}'))
style(ax, 11, lw=1.0)
label_px(212.3, 960.7, 'Patients (increasing risk score)', 11.5)
label_px(9, 814, 'Risk score', 11.5, 90)
legend_at(58, 983.7, [dot(RED, 4.2), dot(BLUE, 4.2)], ['High risk', 'Low risk'], 11.5, hl=0.35, htp=0.65, ls=0.15)
label_px(180, 1046.7, '(g)', 11)

# (h)
st = np.array(surv_time)
dead = np.array(status) == 1
ax = axes_px(432.7, 713.3, 776.4, 918)
ax.scatter(patients[~dead], st[~dead], s=11, color=BLUE, lw=0, zorder=3)
ax.scatter(patients[dead], st[dead], s=11, color=RED, lw=0, zorder=3)
ax.axvline(n_low - 0.5, color='black', lw=0.7, ls=(0, (2, 2)))
ax.set_xlim(-8.24, 241.24)
ax.set_ylim(-0.237, 6.157)
ax.set_xticks([0, 50, 100, 150, 200])
ax.set_yticks(range(0, 7))
style(ax, 11, lw=1.0)
label_px(603, 960.7, 'Patients (increasing risk score)', 11.5)
label_px(396, 816, 'Survival time (years)', 11.5, 90)
legend_at(433, 983.7, [dot(RED, 4.2), dot(BLUE, 4.2)], ['Dead', 'Alive'], 11.5, hl=0.35, htp=0.65, ls=0.15)
label_px(576.7, 1046.7, '(h)', 11)

# (i)
ax = axes_px(95.7, 1070, 362.7, 1304)
scatter_panel(ax, pca_val_low, pca_val_high, 14)
ax.set_xlim(-3.99, 5.14)
ax.set_ylim(-3.43, 2.73)
ax.set_xticks([-2.5, 0, 2.5, 5])
ax.set_yticks([-3, -2, -1, 0, 1, 2])
ax.xaxis.set_major_formatter(minus_fmt('{:.1f}'))
ax.yaxis.set_major_formatter(minus_fmt('{:.0f}'))
style(ax, 11, lw=0.9)
label_px(232.3, 1346.7, 'PC1', 12)
label_px(48.3, 1186.7, 'PC2', 12, 90)
legend_at(96.3, 1369.6, [dot(RED, 4.4), dot(BLUE, 4.4)], ['High', 'Low'], 12, title='Risk', hl=0.35, htp=0.65, ls=0.17)
label_px(201, 1453.3, '(i)', 11)

# (j)
ax = axes_px(451.3, 1068.3, 733.7, 1304)
scatter_panel(ax, tsne_val_low, tsne_val_high, 14)
ax.set_xlim(-21.95, 19.06)
ax.set_ylim(-29.5, 25.45)
ax.set_xticks([-20, -10, 0, 10])
ax.set_yticks([-20, -10, 0, 10, 20])
ax.xaxis.set_major_formatter(minus_fmt('{:.0f}'))
ax.yaxis.set_major_formatter(minus_fmt('{:.0f}'))
style(ax, 11, lw=0.9)
label_px(592, 1346.7, 'tSNE1', 12)
label_px(398.7, 1186.7, 'tSNE2', 12, 90)
legend_at(451.3, 1369.6, [dot(RED, 4.4), dot(BLUE, 4.4)], ['High', 'Low'], 12, title='Risk', hl=0.35, htp=0.65, ls=0.17)
label_px(558.7, 1453.3, '(j)', 11)

# (k)
ax = axes_px(83.3, 1484.7, 398.2, 1726.3)
km_panel(ax, [(km_va_high_t, km_va_high_s, km_va_high_lo, km_va_high_up, km_va_high_cens, RED),
              (km_va_low_t, km_va_low_s, km_va_low_lo, km_va_low_up, km_va_low_cens, BLUE)])
ax.set_xlim(-0.315, 6.3)
ax.set_ylim(-0.05, 1.05)
ax.set_xticks([])
ax.set_yticks([0.25, 0.5, 0.75, 1.0])
ax.yaxis.set_major_formatter(minus_fmt('{:.2f}'))
style(ax, 11, box=False, color='#333333', lw=0.9)
ax.text(0.14, 0.2, p_val, fontsize=11.5, va='center', ha='left')
label_px(26.7, 1597, 'Survival probability', 12, 90)

# (l)
ax = axes_px(475.7, 1476.4, 757.7, 1726.5)
for data, color in [(roc_va_1y, GREEN), (roc_va_2y, BLUE), (roc_va_3y, RED)]:
    ax.plot(data[:, 0], data[:, 1], color=color, lw=1.6, drawstyle='steps-post')
ax.axline((0, 0), (1, 1), color='black', lw=0.7, ls=(0, (3, 2)))
ax.set_xlim(-0.04, 1.04)
ax.set_ylim(-0.04, 1.04)
ax.set_xticks([])
ax.set_yticks([0.2, 0.4, 0.6, 0.8, 1.0])
ax.yaxis.set_major_formatter(minus_fmt('{:.1f}'))
style(ax, 11, lw=1.0)
label_px(426.3, 1600, 'Sensitivity', 11, 90)

fig.savefig('out.png', dpi=100)
